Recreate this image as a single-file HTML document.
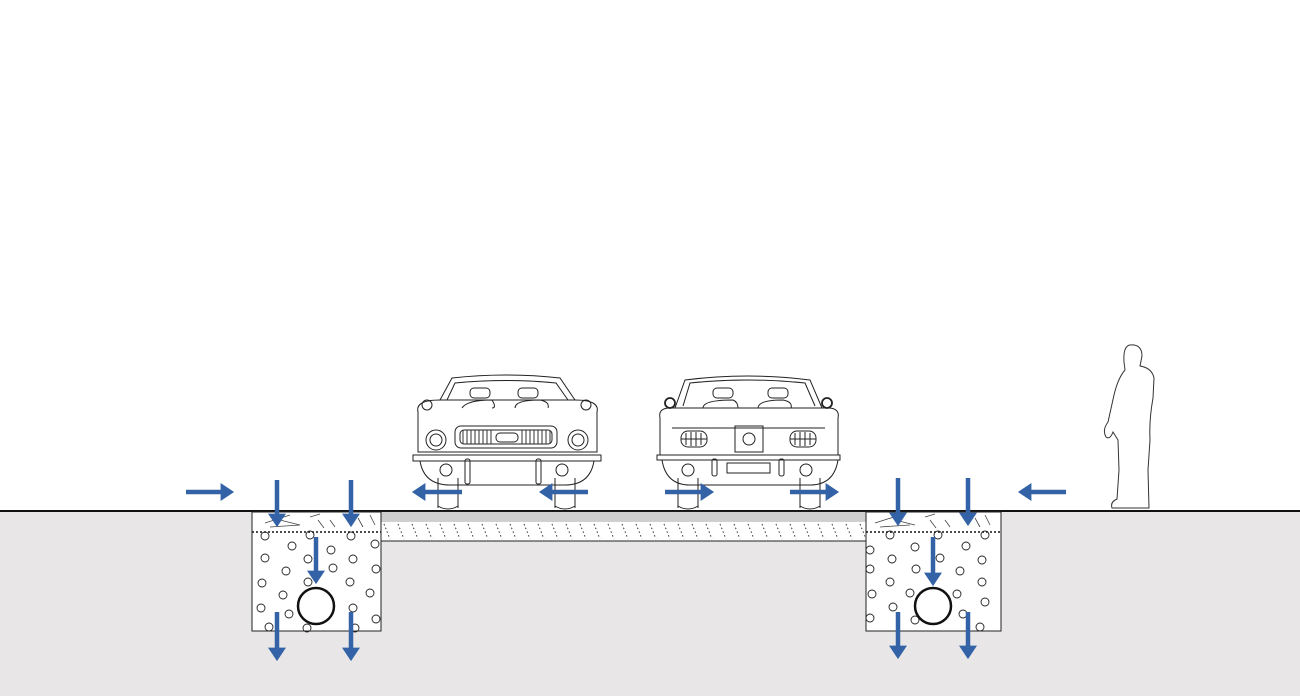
<!DOCTYPE html>
<html><head><meta charset="utf-8"><style>html,body{margin:0;padding:0;background:#fff}svg{display:block}</style></head>
<body>
<svg width="1300" height="696" viewBox="0 0 1300 696" xmlns="http://www.w3.org/2000/svg">
<defs>
<pattern id="hatch" width="14" height="19" patternUnits="userSpaceOnUse" x="381" y="522">
<line x1="3" y1="2" x2="9" y2="17" stroke="#333" stroke-width="1" stroke-dasharray="1.5 2.5"/>
</pattern>
<marker id="ah" markerWidth="4" markerHeight="4" refX="1.2" refY="2" orient="auto" markerUnits="strokeWidth"><path d="M0,0 L3,2 L0,4z" fill="#3363a6"/></marker>
</defs>
<rect x="0" y="511" width="1300" height="185" fill="#e8e6e7"/>
<line x1="0" y1="511" x2="1300" y2="511" stroke="#111" stroke-width="2"/>
<!-- road slab -->
<rect x="381" y="512" width="485" height="29" fill="#fff" stroke="#222" stroke-width="1"/>
<rect x="381" y="512" width="485" height="10" fill="#cfcfcf"/>
<rect x="382" y="523" width="483" height="17" fill="url(#hatch)"/>
<!-- trenches -->
<g stroke="#222" fill="none" stroke-width="1">
<rect x="252" y="512" width="129" height="119" fill="#fff"/>
<rect x="866" y="512" width="135" height="119" fill="#fff"/>
</g>
<g stroke="#111" stroke-width="1.6" stroke-dasharray="2 2">
<line x1="252" y1="532" x2="381" y2="532"/><line x1="866" y1="532" x2="1001" y2="532"/>
</g>
<g stroke="#444" stroke-width="0.8">
<path d="M265 523 l25 -8 M270 527 l30 -2 M310 517 l10 -3 M318 520 l6 8 M330 520 l5 7 M358 518 l5 9 M370 515 l5 10 M280 520 l20 5"/>
<path d="M875 523 l25 -8 M880 527 l30 -2 M925 517 l10 -3 M930 520 l6 8 M945 520 l5 7 M975 518 l5 9 M985 515 l5 10 M895 520 l20 5"/>
</g>
<g fill="none" stroke="#222" stroke-width="0.9">
<circle cx="265" cy="536" r="4"/><circle cx="310" cy="535" r="4"/><circle cx="351" cy="536" r="4"/>
<circle cx="292" cy="546" r="4"/><circle cx="375" cy="544" r="4"/><circle cx="265" cy="558" r="4"/>
<circle cx="308" cy="559" r="4"/><circle cx="331" cy="550" r="4"/><circle cx="353" cy="559" r="4"/>
<circle cx="286" cy="571" r="4"/><circle cx="333" cy="568" r="4"/><circle cx="376" cy="569" r="4"/>
<circle cx="262" cy="583" r="4"/><circle cx="308" cy="582" r="4"/><circle cx="350" cy="582" r="4"/>
<circle cx="283" cy="595" r="4"/><circle cx="370" cy="593" r="4"/><circle cx="261" cy="608" r="4"/>
<circle cx="289" cy="614" r="4"/><circle cx="353" cy="608" r="4"/><circle cx="376" cy="619" r="4"/>
<circle cx="269" cy="627" r="4"/><circle cx="307" cy="628" r="4"/><circle cx="355" cy="628" r="4"/>
<circle cx="890" cy="535" r="4"/><circle cx="938" cy="535" r="4"/><circle cx="985" cy="535" r="4"/>
<circle cx="870" cy="550" r="4"/><circle cx="915" cy="547" r="4"/><circle cx="966" cy="546" r="4"/>
<circle cx="892" cy="559" r="4"/><circle cx="940" cy="558" r="4"/><circle cx="982" cy="560" r="4"/>
<circle cx="870" cy="569" r="4"/><circle cx="916" cy="569" r="4"/><circle cx="960" cy="571" r="4"/>
<circle cx="890" cy="582" r="4"/><circle cx="982" cy="582" r="4"/><circle cx="872" cy="594" r="4"/>
<circle cx="910" cy="593" r="4"/><circle cx="957" cy="594" r="4"/><circle cx="985" cy="602" r="4"/>
<circle cx="893" cy="607" r="4"/><circle cx="963" cy="614" r="4"/><circle cx="870" cy="618" r="4"/>
<circle cx="915" cy="620" r="4"/><circle cx="980" cy="627" r="4"/>
</g>
<circle cx="316" cy="606" r="18" fill="#fff" stroke="#111" stroke-width="2.5"/>
<circle cx="933" cy="606" r="18" fill="#fff" stroke="#111" stroke-width="2.5"/>
<!-- left car (front) -->
<g fill="none" stroke="#222" stroke-width="1">
<path d="M438 508 v-30 M458 508 v-30 M438 506 q10 6 20 0"/>
<path d="M555 508 v-30 M575 508 v-30 M555 506 q10 6 20 0"/>
<path d="M440 400 L452 378 Q506 372 560 378 L575 400"/>
<path d="M447 400 L455 383 Q506 378 556 383 L568 400"/>
<rect x="470" y="388" width="20" height="10" rx="4"/><rect x="518" y="388" width="20" height="10" rx="4"/>
<path d="M462 408 q5 -8 30 -8 q5 8 0 8 M515 408 q0 -8 25 -8 q10 2 8 8"/>
<path d="M418 412 Q415 400 440 400 L575 400 Q600 400 597 412 L597 452 L418 452 Z"/>
<circle cx="427" cy="405" r="5"/><circle cx="586" cy="405" r="5"/>
<circle cx="436" cy="440" r="10"/><circle cx="436" cy="440" r="6"/>
<circle cx="578" cy="440" r="10"/><circle cx="578" cy="440" r="6"/>
<rect x="455" y="426" width="102" height="22" rx="6"/>
<rect x="460" y="430" width="92" height="14" rx="4"/>
<rect x="496" y="433" width="22" height="9" rx="4"/>
<path d="M413 455 h188 v6 h-188z"/>
<path d="M420 461 Q424 485 450 485 L565 485 Q590 485 594 461"/>
<rect x="465" y="459" width="5" height="25" rx="2"/><rect x="536" y="459" width="5" height="25" rx="2"/>
<circle cx="446" cy="470" r="6"/><circle cx="562" cy="470" r="6"/>
</g>
<g stroke="#333" stroke-width="1"><path d="M463 430 v14 M467 430 v14 M471 430 v14 M475 430 v14 M479 430 v14 M483 430 v14 M487 430 v14 M491 430 v14 M522 430 v14 M526 430 v14 M530 430 v14 M534 430 v14 M538 430 v14 M542 430 v14 M546 430 v14 M550 430 v14"/></g>
<!-- right car (rear) -->
<g fill="none" stroke="#222" stroke-width="1">
<path d="M678 508 v-30 M698 508 v-30 M678 506 q10 6 20 0"/>
<path d="M800 508 v-30 M820 508 v-30 M800 506 q10 6 20 0"/>
<path d="M675 408 L685 380 Q748 372 810 380 L822 408"/>
<path d="M683 406 L690 383 Q748 377 805 383 L815 406"/>
<rect x="713" y="388" width="20" height="10" rx="4"/><rect x="768" y="388" width="20" height="10" rx="4"/>
<path d="M703 408 q0 -8 30 -8 q5 2 5 8 M758 408 q0 -8 25 -8 q10 2 8 8"/>
<path d="M660 418 Q658 408 670 408 L828 408 Q840 408 838 418 L838 455 L660 455 Z"/>
<path d="M672 428 L825 428"/>
<circle cx="670" cy="403" r="5" stroke-width="1.8"/><circle cx="827" cy="403" r="5" stroke-width="1.8"/>
<rect x="681" y="431" width="26" height="16" rx="7"/><rect x="790" y="431" width="26" height="16" rx="7"/>
<path d="M686 433 v12 M691 432 v14 M696 432 v14 M701 433 v12 M681 439 h26 M795 433 v12 M800 432 v14 M805 432 v14 M810 433 v12 M790 439 h26"/>
<rect x="735" y="426" width="28" height="26"/><circle cx="749" cy="439" r="6"/>
<path d="M657 455 h183 v5 h-183z"/>
<path d="M662 460 Q666 485 690 485 L810 485 Q834 485 838 460"/>
<rect x="712" y="459" width="5" height="17" rx="2"/><rect x="779" y="459" width="5" height="17" rx="2"/>
<rect x="727" y="463" width="43" height="10"/>
<circle cx="688" cy="470" r="6"/><circle cx="806" cy="470" r="6"/>
</g>
<!-- person -->
<path d="M1130 345 Q1142 344 1142 356 L1140 366 Q1152 368 1154 378 L1153 398 Q1149 420 1150 440 L1148 470 L1149 508 L1112 508 Q1110 502 1117 499 L1119 470 L1118 440 L1113 432 Q1110 440 1106 437 Q1102 430 1108 422 L1114 395 Q1118 378 1125 370 L1124 362 Q1123 346 1130 345 Z" fill="#fff" stroke="#333" stroke-width="1"/>
<!-- arrows -->
<g stroke="#3363a6" stroke-width="4.5" fill="none" marker-end="url(#ah)">
<line x1="186" y1="492" x2="226" y2="492"/>
<line x1="462" y1="492" x2="420" y2="492"/>
<line x1="588" y1="492" x2="547" y2="492"/>
<line x1="665" y1="492" x2="706" y2="492"/>
<line x1="790" y1="492" x2="831" y2="492"/>
<line x1="1066" y1="492" x2="1026" y2="492"/>
<line x1="277" y1="480" x2="277" y2="519"/>
<line x1="351" y1="480" x2="351" y2="519"/>
<line x1="316" y1="537" x2="316" y2="576"/>
<line x1="277" y1="612" x2="277" y2="653"/>
<line x1="351" y1="612" x2="351" y2="653"/>
<line x1="898" y1="478" x2="898" y2="518"/>
<line x1="968" y1="478" x2="968" y2="518"/>
<line x1="933" y1="537" x2="933" y2="578"/>
<line x1="898" y1="612" x2="898" y2="651"/>
<line x1="968" y1="612" x2="968" y2="651"/>
</g>
</svg>
</body></html>
